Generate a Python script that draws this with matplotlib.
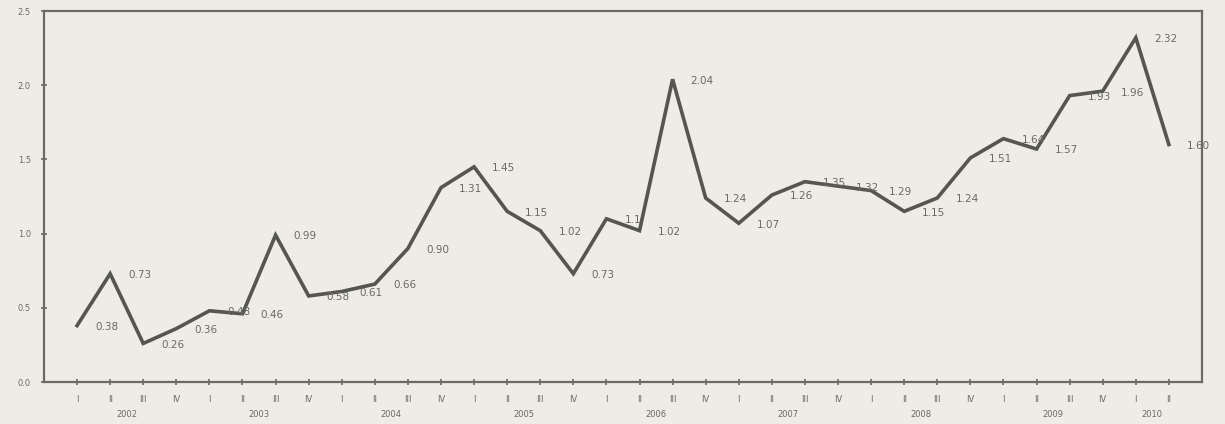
import matplotlib
matplotlib.use("Agg")
import matplotlib.pyplot as plt

# quarterly values, 2002 Q1 .. 2010 Q2
years = ["2002", "2003", "2004", "2005", "2006", "2007", "2008", "2009", "2010"]
quarters = ["I", "II", "III", "IV"]
values = [0.38, 0.73, 0.26, 0.36,
          0.48, 0.46, 0.99, 0.58,
          0.61, 0.66, 0.90, 1.31,
          1.45, 1.15, 1.02, 0.73,
          1.10, 1.02, 2.04, 1.24,
          1.07, 1.26, 1.35, 1.32,
          1.29, 1.15, 1.24, 1.51,
          1.64, 1.57, 1.93, 1.96,
          2.32, 1.60]
labels = ["0.38", "0.73", "0.26", "0.36",
          "0.48", "0.46", "0.99", "0.58",
          "0.61", "0.66", "0.90", "1.31",
          "1.45", "1.15", "1.02", "0.73",
          "1.1", "1.02", "2.04", "1.24",
          "1.07", "1.26", "1.35", "1.32",
          "1.29", "1.15", "1.24", "1.51",
          "1.64", "1.57", "1.93", "1.96",
          "2.32", "1.60"]

bg = "#eeece4"
ink = "#555551"
txt = "#6a6a66"

fig = plt.figure(figsize=(12.25, 4.24), dpi=100, facecolor=bg)
ax = fig.add_axes([0.0359, 0.099, 0.9453, 0.875])
ax.set_facecolor(bg)

x = list(range(len(values)))
ax.plot(x, values, color=ink, linewidth=2.6, solid_joinstyle="miter")

for xi, v, lab in zip(x, values, labels):
    ax.annotate(lab, (xi, v), xytext=(13, -1), textcoords="offset points",
                ha="left", va="center", fontsize=7.5, color=txt,
                family="DejaVu Sans")

ax.set_xlim(-1, 34)
ax.set_ylim(0, 2.5)
ax.set_yticks([0, 0.5, 1.0, 1.5, 2.0, 2.5])
ax.set_yticklabels(["0.0", "0.5", "1.0", "1.5", "2.0", "2.5"])

qlabels = [quarters[i % 4] for i in x]
ax.set_xticks(x)
ax.set_xticklabels(qlabels)

for s in ax.spines.values():
    s.set_color("#6a6a66")
    s.set_linewidth(1.6)

ax.tick_params(axis="both", direction="inout", length=5, width=1.2,
               color="#6a6a66", labelcolor=txt, labelsize=6)
ax.tick_params(axis="x", pad=7)
ax.tick_params(axis="y", pad=7)

# year captions under the quarter labels
for i, yr in enumerate(years):
    nq = min(4, len(values) - 4 * i)
    xc = 4 * i + (nq - 1) / 2
    ax.text(xc, -0.087, yr, transform=ax.get_xaxis_transform(),
            ha="center", va="center", fontsize=6, color=txt)

fig.savefig("out.png", dpi=100, facecolor=bg)
